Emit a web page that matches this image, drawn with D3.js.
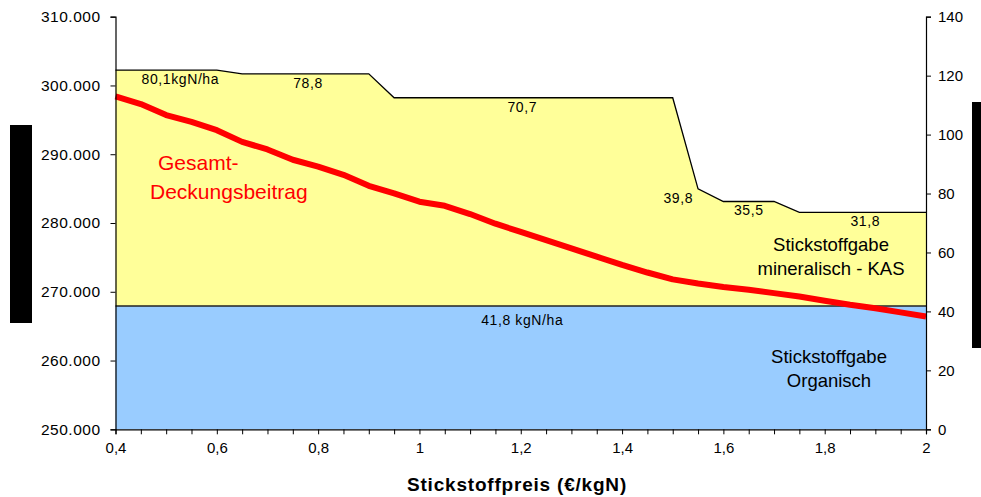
<!DOCTYPE html>
<html>
<head>
<meta charset="utf-8">
<script src="https://cdn.jsdelivr.net/npm/d3@7"></script>
<style>
  body { margin: 0; background: #fff; }
  svg { font-family: "Liberation Sans", Arial, sans-serif; }
  .tick text { fill: #000; }
  .lbl { font-size: 14px; letter-spacing: 0.6px; fill: #000; }
</style>
</head>
<body>
<svg id="chart" width="981" height="497"></svg>
<script>
// Stickstoffpreis (EUR/kgN)
var price = [0.4, 0.45, 0.5, 0.55, 0.6, 0.65, 0.7, 0.75, 0.8, 0.85, 0.9, 0.95, 1.0,
  1.05, 1.1, 1.15, 1.2, 1.25, 1.3, 1.35, 1.4, 1.45, 1.5, 1.55, 1.6, 1.65, 1.7,
  1.75, 1.8, 1.85, 1.9, 1.95, 2.0];

// N-Gabe organisch (kgN/ha), right axis
var organic = [41.8, 41.8, 41.8, 41.8, 41.8, 41.8, 41.8, 41.8, 41.8, 41.8, 41.8,
  41.8, 41.8, 41.8, 41.8, 41.8, 41.8, 41.8, 41.8, 41.8, 41.8, 41.8, 41.8, 41.8,
  41.8, 41.8, 41.8, 41.8, 41.8, 41.8, 41.8, 41.8, 41.8];

// N-Gabe mineralisch KAS (kgN/ha), stacked on organic
var mineral = [80.1, 80.1, 80.1, 80.1, 80.1, 78.8, 78.8, 78.8, 78.8, 78.8, 78.8,
  70.7, 70.7, 70.7, 70.7, 70.7, 70.7, 70.7, 70.7, 70.7, 70.7, 70.7, 70.7,
  39.8, 35.5, 35.5, 35.5, 31.8, 31.8, 31.8, 31.8, 31.8, 31.8];

// Gesamt-Deckungsbeitrag, left axis
var deckung = [298400, 297300, 295700, 294700, 293500, 291800, 290700, 289200,
  288200, 287000, 285400, 284300, 283100, 282500, 281300, 279900, 278700,
  277500, 276300, 275100, 273900, 272800, 271800, 271200, 270700, 270300,
  269800, 269300, 268700, 268100, 267600, 267000, 266400];

var leftTicks = [250000, 260000, 270000, 280000, 290000, 300000, 310000];
var rightTicks = [0, 20, 40, 60, 80, 100, 120, 140];
var xTicks = [0.4, 0.6, 0.8, 1.0, 1.2, 1.4, 1.6, 1.8, 2.0];

// value labels: [x, stacked value, text]
var valueLabels = [
  [0.528, 80.1, "80,1kgN/ha"],
  [0.78, 78.8, "78,8"],
  [1.203, 70.7, "70,7"],
  [1.511, 39.8, "39,8"],
  [1.65, 35.5, "35,5"],
  [1.88, 31.8, "31,8"]
];

var Config = {
  Left: 115.5,
  Right: 926,
  Top: 16.7,
  Bottom: 429.3
};

var svg = d3.select("#chart");

var x = d3.scaleLinear().domain([0.4, 2]).range([Config.Left, Config.Right]);
var yL = d3.scaleLinear().domain([250000, 310000]).range([Config.Bottom, Config.Top]);
var yR = d3.scaleLinear().domain([0, 140]).range([Config.Bottom, Config.Top]);

var rows = price.map(function (p, i) {
  return { p: p, org: organic[i], tot: organic[i] + mineral[i], db: deckung[i] };
});

// yellow: mineral on top of organic
svg.append("path")
  .datum(rows)
  .attr("fill", "#ffff99")
  .attr("d", d3.area()
    .x(function (d) { return x(d.p); })
    .y0(function (d) { return yR(d.org); })
    .y1(function (d) { return yR(d.tot); }));

svg.append("path")
  .datum(rows)
  .attr("fill", "none")
  .attr("stroke", "#000")
  .attr("stroke-width", 1.3)
  .attr("d", d3.line()
    .x(function (d) { return x(d.p); })
    .y(function (d) { return yR(d.tot); }));

// blue: organic
svg.append("path")
  .datum(rows)
  .attr("fill", "#99ccff")
  .attr("d", d3.area()
    .x(function (d) { return x(d.p); })
    .y0(yR(0))
    .y1(function (d) { return yR(d.org); }));

svg.append("path")
  .datum(rows)
  .attr("fill", "none")
  .attr("stroke", "#222")
  .attr("stroke-width", 1.5)
  .attr("d", d3.line()
    .x(function (d) { return x(d.p); })
    .y(function (d) { return yR(d.org); }));

// red line
svg.append("path")
  .datum(rows)
  .attr("fill", "none")
  .attr("stroke", "#ff0000")
  .attr("stroke-width", 6)
  .attr("stroke-linejoin", "round")
  .attr("d", d3.line()
    .x(function (d) { return x(d.p); })
    .y(function (d) { return yL(d.db); }));

// axes
var fmtL = function (v) { return d3.format(",")(v).replace(/,/g, "."); };
var fmtX = function (v) { return String(v).replace(".", ","); };

var gL = svg.append("g")
  .attr("transform", "translate(" + Config.Left + ",0)")
  .call(d3.axisLeft(yL).tickValues(leftTicks).tickFormat(fmtL).tickSize(5).tickPadding(10));
gL.selectAll("text").style("font-size", "15.5px").attr("letter-spacing", "0.5px");

var gR = svg.append("g")
  .attr("transform", "translate(" + Config.Right + ",0)")
  .call(d3.axisRight(yR).tickValues(rightTicks).tickSize(5).tickPadding(7));
gR.selectAll("text").style("font-size", "15px");

var gX = svg.append("g")
  .attr("transform", "translate(0," + Config.Bottom + ")")
  .call(d3.axisBottom(x).tickValues(d3.range(0.4, 2.001, 0.05)).tickSize(5).tickPadding(8)
    .tickFormat(function (v) {
      var r = Math.round(v * 100) / 100;
      return xTicks.some(function (t) { return Math.abs(t - r) < 1e-6; }) ? fmtX(r) : "";
    }));
gX.selectAll("text").style("font-size", "15px");

[gL, gR, gX].forEach(function (g) {
  g.select(".domain").attr("stroke", "#000").attr("stroke-width", 1.2);
  g.selectAll(".tick line").attr("stroke", "#000");
  g.style("font-family", "'Liberation Sans', Arial, sans-serif");
});

// value labels
valueLabels.forEach(function (l) {
  svg.append("text")
    .attr("class", "lbl")
    .attr("x", x(l[0]))
    .attr("y", yR(41.8 + l[1]) + 14)
    .attr("text-anchor", "middle")
    .text(l[2]);
});

svg.append("text")
  .attr("class", "lbl")
  .attr("x", x(1.203))
  .attr("y", yR(41.8) + 19)
  .attr("text-anchor", "middle")
  .text("41,8 kgN/ha");

// area descriptions
svg.append("text")
  .attr("x", 158).attr("y", 170)
  .attr("fill", "#ff0000").style("font-size", "21px")
  .text("Gesamt-");
svg.append("text")
  .attr("x", 150).attr("y", 199)
  .attr("fill", "#ff0000").style("font-size", "21px")
  .text("Deckungsbeitrag");

svg.append("text")
  .attr("x", 831).attr("y", 251)
  .attr("text-anchor", "middle").style("font-size", "18.5px")
  .text("Stickstoffgabe");
svg.append("text")
  .attr("x", 831).attr("y", 275)
  .attr("text-anchor", "middle").style("font-size", "18.5px")
  .text("mineralisch - KAS");

svg.append("text")
  .attr("x", 829).attr("y", 363)
  .attr("text-anchor", "middle").style("font-size", "18.5px")
  .text("Stickstoffgabe");
svg.append("text")
  .attr("x", 829).attr("y", 387)
  .attr("text-anchor", "middle").style("font-size", "18.5px")
  .text("Organisch");

// x title
svg.append("text")
  .attr("x", 517).attr("y", 491)
  .attr("text-anchor", "middle")
  .style("font-size", "19px").style("font-weight", "bold")
  .attr("letter-spacing", "0.8px")
  .text("Stickstoffpreis (€/kgN)");

// axis title boxes (rendered as solid black in the source)
svg.append("rect").attr("x", 10).attr("y", 125).attr("width", 22).attr("height", 198).attr("fill", "#000");
svg.append("rect").attr("x", 972).attr("y", 102).attr("width", 9).attr("height", 246).attr("fill", "#000");
</script>
</body>
</html>
